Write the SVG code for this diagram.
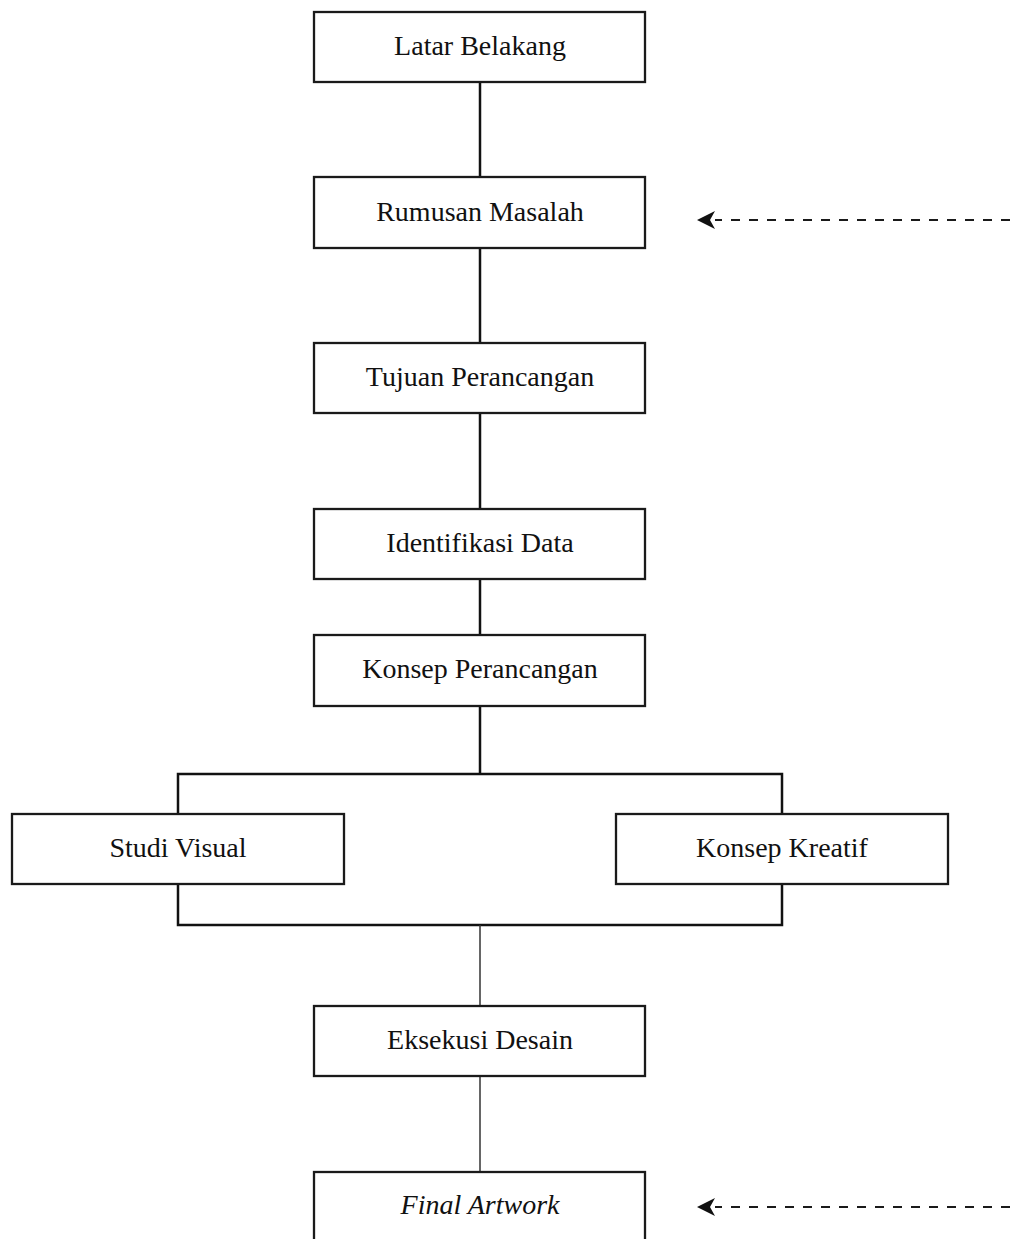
<svg xmlns="http://www.w3.org/2000/svg" width="1017" height="1239" viewBox="0 0 1017 1239">
<style>
.box{fill:#fff;stroke:#1a1a1a;stroke-width:2.3}
.lbl{font-family:"Liberation Serif","Times New Roman",serif;font-size:28px;fill:#111;text-anchor:middle}
.c{fill:none;stroke:#111;stroke-width:2.5}
.thin{fill:none;stroke:#333;stroke-width:1.5}
.dash{fill:none;stroke:#1a1a1a;stroke-width:2;stroke-dasharray:9 9}
</style>
<g id="connectors">
<line class="c" x1="480" y1="82" x2="480" y2="177"/>
<line class="c" x1="480" y1="248" x2="480" y2="343"/>
<line class="c" x1="480" y1="413" x2="480" y2="509"/>
<line class="c" x1="480" y1="579" x2="480" y2="635"/>
<line class="c" x1="480" y1="705" x2="480" y2="774"/>
<polyline class="c" points="178,814 178,774 782,774 782,814"/>
<polyline class="c" points="178,884 178,925 782,925 782,884"/>
<line class="thin" x1="480" y1="925" x2="480" y2="1006"/>
<line class="thin" x1="480" y1="1076" x2="480" y2="1172"/>
<line class="dash" x1="1010" y1="220" x2="715" y2="220"/>
<path d="M697,220 L715,211 L710,220 L715,229 Z" fill="#111"/>
<line class="dash" x1="1010" y1="1207" x2="715" y2="1207"/>
<path d="M697,1207 L715,1198 L710,1207 L715,1216 Z" fill="#111"/>
</g>
<g id="n1"><rect class="box" x="314" y="12" width="331" height="70"/><text class="lbl" x="480" y="55">Latar Belakang</text></g>
<g id="n2"><rect class="box" x="314" y="177" width="331" height="71"/><text class="lbl" x="480" y="221">Rumusan Masalah</text></g>
<g id="n3"><rect class="box" x="314" y="343" width="331" height="70"/><text class="lbl" x="480" y="386">Tujuan Perancangan</text></g>
<g id="n4"><rect class="box" x="314" y="509" width="331" height="70"/><text class="lbl" x="480" y="552">Identifikasi Data</text></g>
<g id="n5"><rect class="box" x="314" y="635" width="331" height="71"/><text class="lbl" x="480" y="678">Konsep Perancangan</text></g>
<g id="n6"><rect class="box" x="12" y="814" width="332" height="70"/><text class="lbl" x="178" y="857">Studi Visual</text></g>
<g id="n7"><rect class="box" x="616" y="814" width="332" height="70"/><text class="lbl" x="782" y="857">Konsep Kreatif</text></g>
<g id="n8"><rect class="box" x="314" y="1006" width="331" height="70"/><text class="lbl" x="480" y="1049">Eksekusi Desain</text></g>
<g id="n9"><rect class="box" x="314" y="1172" width="331" height="72"/><text class="lbl" x="480" y="1214" font-style="italic">Final Artwork</text></g>
</svg>
